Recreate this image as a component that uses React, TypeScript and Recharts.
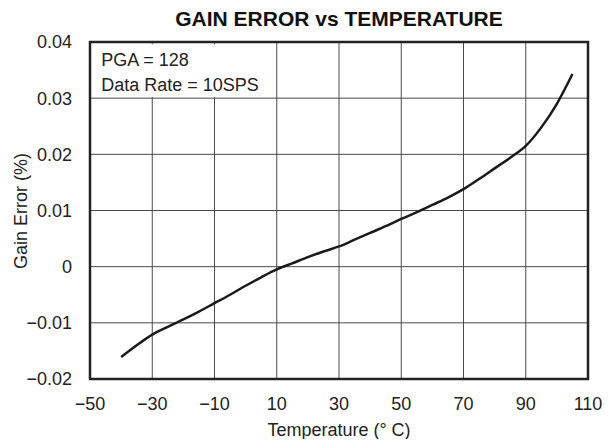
// @ts-nocheck
import { LineChart, Line, XAxis, YAxis, CartesianGrid, ReferenceArea } from "recharts";

const temps = [-40, -35, -30, -25, -20, -15, -10, -5, 0, 5, 10, 15, 20, 25, 30, 35, 40, 45, 50, 55, 60, 65, 70, 75, 80, 85, 90, 95, 100, 105];
const gainError = [
  -0.0161, -0.014, -0.0121, -0.0107, -0.0094, -0.008, -0.0065, -0.005, -0.0034, -0.0019,
  -0.0005, 0.0006, 0.0017, 0.0027, 0.0036, 0.0048, 0.006, 0.0072, 0.0085, 0.0097,
  0.011, 0.0123, 0.0138, 0.0156, 0.0175, 0.0194, 0.0215, 0.0248, 0.029, 0.0343,
];
const xTicks = [-50, -30, -10, 10, 30, 50, 70, 90, 110];
const yTicks = [-0.02, -0.01, 0, 0.01, 0.02, 0.03, 0.04];
const noteLines = ["PGA = 128", "Data Rate = 10SPS"];

const data = temps.map((t, i) => ({ t, v: gainError[i] }));

const FONT = "'Liberation Sans', Arial, sans-serif";
const minus = (s: string) => s.replace("-", "\u2212");
const fmtY = (v: number) => (v === 0 ? "0" : minus(v.toFixed(2)));
const fmtX = (v: number) => minus(String(v));

const NoteLabel = ({ viewBox }: any) => {
  const { x, y } = viewBox;
  return (
    <g>
      {noteLines.map((s, i) => (
        <text key={i} x={x + 10} y={y + 22 + i * 25} fontSize={18} fill="#222" fontFamily={FONT}>
          {s}
        </text>
      ))}
    </g>
  );
};

export default function App() {
  return (
    <div style={{ width: 614, height: 447, position: "relative", margin: -8, fontFamily: FONT, color: "#222" }}>
      <div
        style={{
          position: "absolute",
          left: 90,
          width: 498,
          top: 8,
          lineHeight: "21px",
          textAlign: "center",
          fontWeight: "bold",
          fontSize: 21,
          color: "#111",
        }}
      >
        GAIN ERROR vs TEMPERATURE
      </div>
      <div
        style={{
          position: "absolute",
          left: 21 - 100,
          width: 200,
          top: 211 - 9,
          lineHeight: "18px",
          fontSize: 18,
          textAlign: "center",
          transform: "rotate(-90deg)",
        }}
      >
        Gain Error (%)
      </div>
      <div
        style={{
          position: "absolute",
          left: 90,
          width: 498,
          top: 421,
          lineHeight: "18px",
          fontSize: 18,
          textAlign: "center",
        }}
      >
        Temperature (° C)
      </div>
      <LineChart width={614} height={447} data={data} margin={{ top: 42, right: 26, left: 0, bottom: 0 }}>
        <CartesianGrid stroke="#4a4a4a" strokeWidth={1} verticalValues={xTicks} horizontalValues={yTicks} />
        <XAxis
          dataKey="t"
          type="number"
          domain={[-50, 110]}
          ticks={xTicks}
          tickFormatter={fmtX}
          axisLine={false}
          tickLine={false}
          tickMargin={12}
          height={68}
          tick={{ fontSize: 18, fill: "#222", fontFamily: FONT }}
        />
        <YAxis
          type="number"
          domain={[-0.02, 0.04]}
          ticks={yTicks}
          tickFormatter={fmtY}
          axisLine={false}
          tickLine={false}
          tickMargin={12}
          width={90}
          tick={{ fontSize: 18, fill: "#222", fontFamily: FONT }}
        />
        <ReferenceArea x1={-49.6} x2={6} y1={0.0302} y2={0.0396} fill="#fff" fillOpacity={1} stroke="none" ifOverflow="visible" label={<NoteLabel />} />
        <ReferenceArea x1={-50} x2={110} y1={-0.02} y2={0.04} fill="none" stroke="#222" strokeWidth={2.5} ifOverflow="visible" />
        <Line type="monotone" dataKey="v" stroke="#1a1a1a" strokeWidth={2.5} dot={false} isAnimationActive={false} />
      </LineChart>
    </div>
  );
}
